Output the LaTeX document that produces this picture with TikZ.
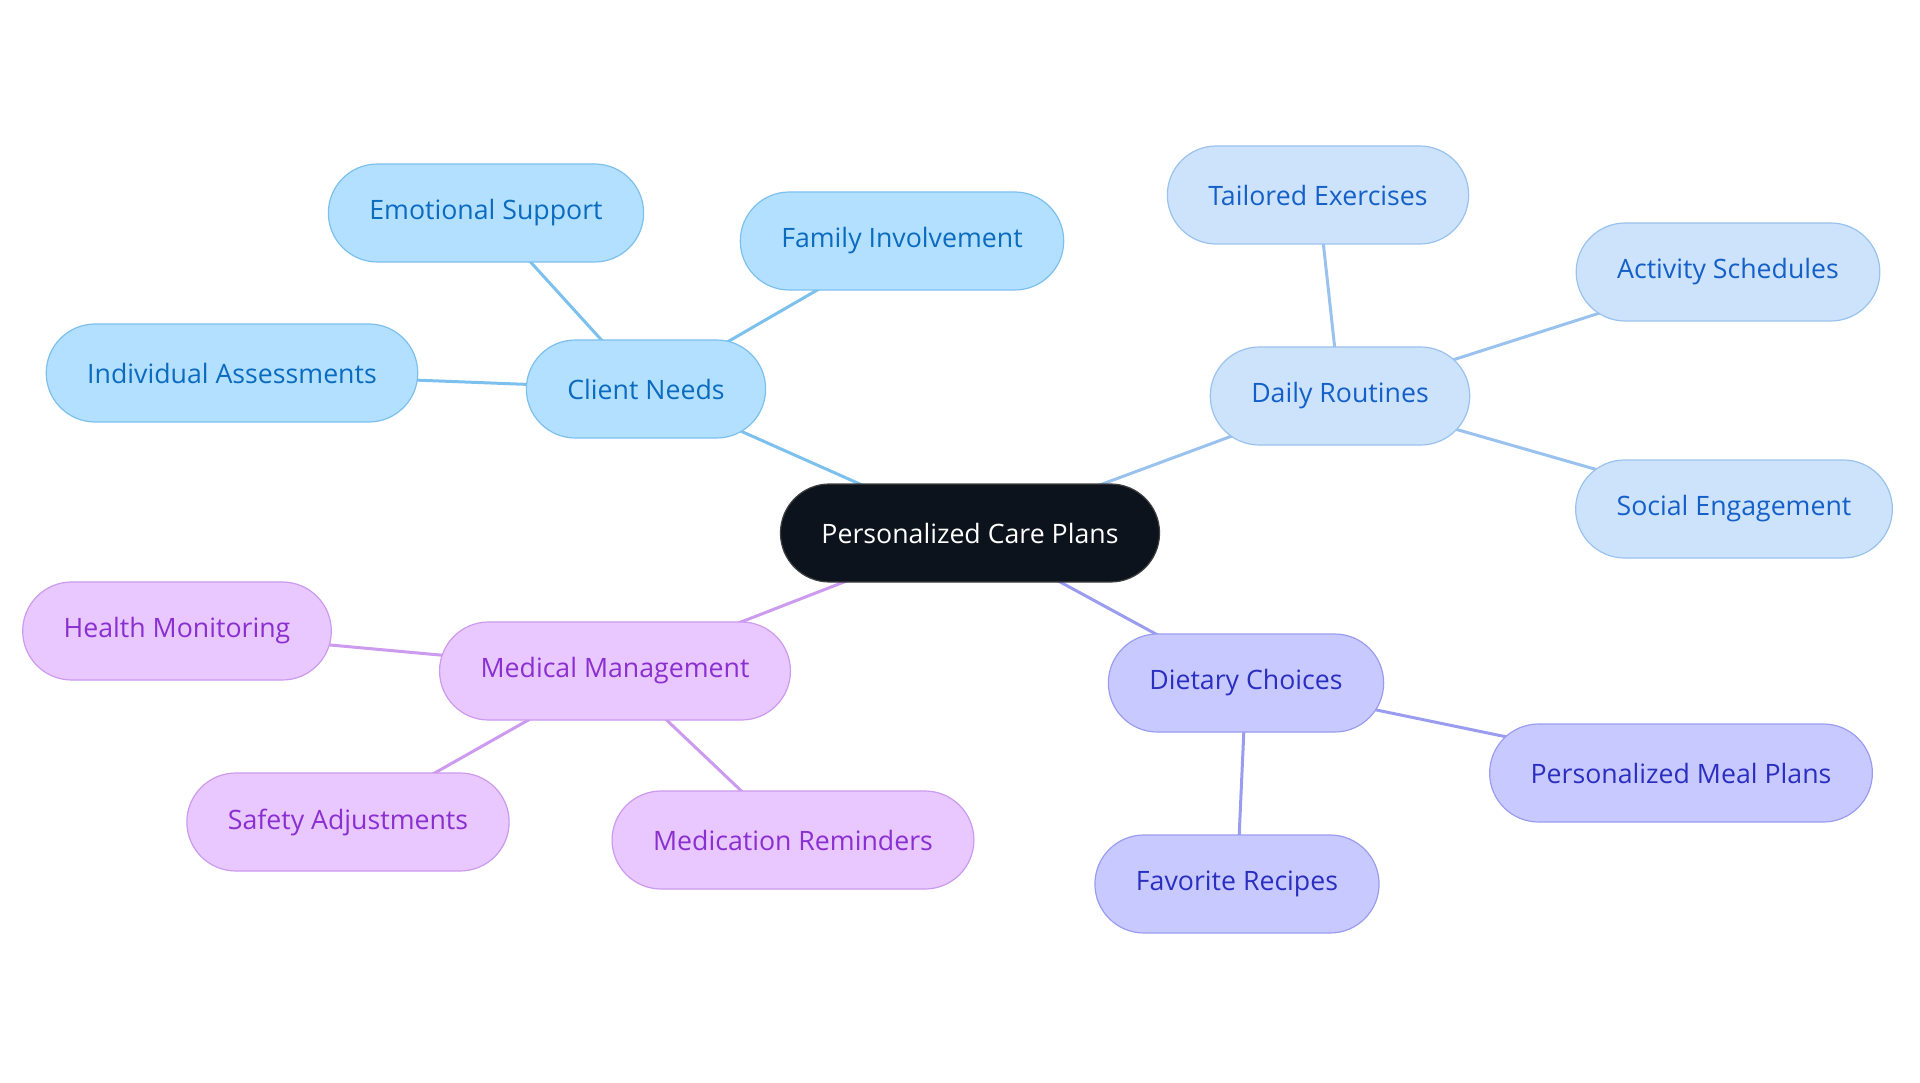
\documentclass[tikz,border=0pt]{standalone}
\usepackage{fontspec}
\setmainfont{Open Sans}
\definecolor{cnfill}{HTML}{B3E0FF}\definecolor{cndraw}{HTML}{7CC0EE}\definecolor{cntext}{HTML}{0B6BBF}
\definecolor{drfill}{HTML}{CDE3FB}\definecolor{drdraw}{HTML}{99C2EE}\definecolor{drtext}{HTML}{1560C8}
\definecolor{dcfill}{HTML}{C8CAFF}\definecolor{dcdraw}{HTML}{9A9CF0}\definecolor{dctext}{HTML}{2B2FC0}
\definecolor{mmfill}{HTML}{E8C8FF}\definecolor{mmdraw}{HTML}{CC9AEE}\definecolor{mmtext}{HTML}{8B2FD0}
\definecolor{rootfill}{HTML}{0D131C}
\pgfdeclarelayer{bg}
\pgfsetlayers{bg,main}
\begin{document}
\begin{tikzpicture}[x=1pt, y=-1pt,
  main/.style = {draw, line width=1.2pt, rectangle, rounded corners=49pt, minimum height=98pt, inner xsep=41pt, font=\fontsize{26.7}{30}\selectfont},
  cn/.style = {main, fill=cnfill, draw=cndraw, text=cntext},
  dr/.style = {main, fill=drfill, draw=drdraw, text=drtext},
  dc/.style = {main, fill=dcfill, draw=dcdraw, text=dctext},
  mm/.style = {main, fill=mmfill, draw=mmdraw, text=mmtext},
  link/.style = {line width=3pt}]
\useasboundingbox (0,0) rectangle (1920,1083);
\node[main, fill=rootfill, draw=black!75, text=white] (root) at (970,533) {Personalized Care Plans};
\node[cn] (cn) at (646,389) {Client Needs};
\node[cn] (es) at (486,213) {Emotional Support};
\node[cn] (fi) at (902,241) {Family Involvement};
\node[cn] (ia) at (232,373) {Individual Assessments};
\node[dr] (dr) at (1340,396) {Daily Routines};
\node[dr] (te) at (1318,195) {Tailored Exercises};
\node[dr] (as) at (1728,272) {Activity Schedules};
\node[dr] (se) at (1734,509) {Social Engagement};
\node[dc] (dc) at (1246,683) {Dietary Choices};
\node[dc] (pm) at (1681,773) {Personalized Meal Plans};
\node[dc] (fr) at (1237,884) {Favorite Recipes};
\node[mm] (mm) at (615,671) {Medical Management};
\node[mm] (hm) at (177,631) {Health Monitoring};
\node[mm] (sa) at (348,822) {Safety Adjustments};
\node[mm] (mr) at (793,840) {Medication Reminders};
\begin{pgfonlayer}{bg}
\draw[link, cndraw] (root.center) -- (cn.center);
\draw[link, cndraw] (cn.center) -- (es.center);
\draw[link, cndraw] (cn.center) -- (fi.center);
\draw[link, cndraw] (cn.center) -- (ia.center);
\draw[link, drdraw] (root.center) -- (dr.center);
\draw[link, drdraw] (dr.center) -- (te.center);
\draw[link, drdraw] (dr.center) -- (as.center);
\draw[link, drdraw] (dr.center) -- (se.center);
\draw[link, dcdraw] (root.center) -- (dc.center);
\draw[link, dcdraw] (dc.center) -- (pm.center);
\draw[link, dcdraw] (dc.center) -- (fr.center);
\draw[link, mmdraw] (root.center) -- (mm.center);
\draw[link, mmdraw] (mm.center) -- (hm.center);
\draw[link, mmdraw] (mm.center) -- (sa.center);
\draw[link, mmdraw] (mm.center) -- (mr.center);
\end{pgfonlayer}
\end{tikzpicture}
\end{document}
